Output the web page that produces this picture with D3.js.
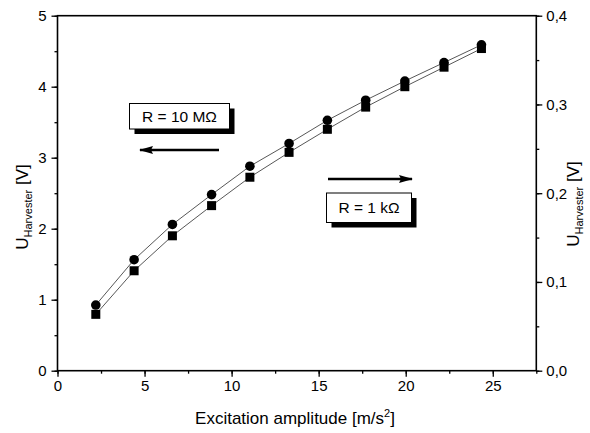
<!DOCTYPE html>
<html>
<head>
<meta charset="utf-8">
<script src="https://cdn.jsdelivr.net/npm/d3@7"></script>
<style>
body { margin: 0; background: #fff; }
svg text { font-family: Arial, "Liberation Sans", sans-serif; fill: #000; }
</style>
</head>
<body>
<div id="chart"></div>
<script>
// excitation amplitude in m/s^2
var amplitude = [2.2, 4.4, 6.6, 8.85, 11.05, 13.3, 15.5, 17.7, 19.95, 22.2, 24.35];
// R = 10 MOhm, left axis [V]
var u10M = [0.925, 1.563, 2.06, 2.48, 2.88, 3.2, 3.527, 3.81, 4.08, 4.34, 4.59];
// R = 1 kOhm, right axis [V]
var u1k = [0.0635, 0.1126, 0.152, 0.186, 0.218, 0.246, 0.272, 0.297, 0.320, 0.342, 0.363];

var xTicks = [0, 5, 10, 15, 20, 25];
var yLeftTicks = [0, 1, 2, 3, 4, 5];
var yRightTicks = [0, 0.1, 0.2, 0.3, 0.4];

var width = 590, height = 433;
var plot = {left: 57.5, right: 536.3, top: 15.7, bottom: 370.7};

var svg = d3.select("#chart").append("svg")
    .attr("width", width)
    .attr("height", height);

var x = d3.scaleLinear().domain([0, 27.5]).range([plot.left, plot.right]);
var yL = d3.scaleLinear().domain([0, 5]).range([plot.bottom, plot.top]);
var yR = d3.scaleLinear().domain([0, 0.4]).range([plot.bottom, plot.top]);

var comma = function(d) { return d3.format(".1f")(d).replace(".", ","); };

// bottom axis
var gx = svg.append("g").attr("transform", "translate(0," + plot.bottom + ")");
gx.call(d3.axisBottom(x).tickValues(d3.range(0, 27.6, 2.5)).tickSize(3).tickFormat(""));
gx.append("g").call(d3.axisBottom(x).tickValues(xTicks).tickSize(6).tickPadding(4));

// left axis
var gl = svg.append("g").attr("transform", "translate(" + plot.left + ",0)");
gl.call(d3.axisLeft(yL).tickValues(d3.range(0, 5.01, 0.5)).tickSize(3).tickFormat(""));
gl.append("g").call(d3.axisLeft(yL).tickValues(yLeftTicks).tickSize(6).tickPadding(5).tickFormat(d3.format("d")));

// right axis
var gr = svg.append("g").attr("transform", "translate(" + plot.right + ",0)");
gr.call(d3.axisRight(yR).tickValues(d3.range(0, 0.401, 0.05)).tickSize(3).tickFormat(""));
gr.append("g").call(d3.axisRight(yR).tickValues(yRightTicks).tickSize(6).tickPadding(4).tickFormat(comma));

svg.selectAll(".domain").remove();
svg.selectAll(".tick line").attr("stroke", "#000").attr("stroke-width", 1.3);
svg.selectAll(".tick text").style("font-size", "15px").attr("fill", "#000");

// frame
svg.append("rect")
    .attr("x", plot.left).attr("y", plot.top)
    .attr("width", plot.right - plot.left).attr("height", plot.bottom - plot.top)
    .attr("fill", "none").attr("stroke", "#000").attr("stroke-width", 1.6);

// lines
var lineL = d3.line().x(function(d, i) { return x(amplitude[i]); }).y(function(d) { return yL(d); });
var lineR = d3.line().x(function(d, i) { return x(amplitude[i]); }).y(function(d) { return yR(d); });

svg.append("path").datum(u10M).attr("d", lineL)
    .attr("fill", "none").attr("stroke", "#444").attr("stroke-width", 0.9);
svg.append("path").datum(u1k).attr("d", lineR)
    .attr("fill", "none").attr("stroke", "#444").attr("stroke-width", 0.9);

// markers
svg.selectAll(".sq").data(u1k).enter().append("rect")
    .attr("class", "sq")
    .attr("x", function(d, i) { return x(amplitude[i]) - 4.5; })
    .attr("y", function(d) { return yR(d) - 4.5; })
    .attr("width", 9).attr("height", 9)
    .attr("fill", "#000");

svg.selectAll(".dot").data(u10M).enter().append("circle")
    .attr("class", "dot")
    .attr("cx", function(d, i) { return x(amplitude[i]); })
    .attr("cy", function(d) { return yL(d); })
    .attr("r", 4.8)
    .attr("fill", "#000");

// annotation boxes with shadow
function labelBox(x0, y0, w, h, txt) {
    svg.append("rect").attr("x", x0 + 5).attr("y", y0 + 5).attr("width", w).attr("height", h).attr("fill", "#000");
    svg.append("rect").attr("x", x0).attr("y", y0).attr("width", w).attr("height", h)
        .attr("fill", "#fff").attr("stroke", "#000").attr("stroke-width", 1);
    svg.append("text").attr("x", x0 + w / 2).attr("y", y0 + h / 2 + 5.5)
        .attr("text-anchor", "middle").style("font-size", "15.5px").text(txt);
}
labelBox(129.5, 103.5, 100, 25.5, "R = 10 M\u03A9");
labelBox(326.5, 193, 85, 29.5, "R = 1 k\u03A9");

// arrows
var defs = svg.append("defs");
defs.append("marker").attr("id", "head")
    .attr("viewBox", "0 0 14 8").attr("refX", 13).attr("refY", 4)
    .attr("markerWidth", 14).attr("markerHeight", 8).attr("markerUnits", "userSpaceOnUse")
    .attr("orient", "auto")
    .append("path").attr("d", "M0,0L14,4L0,8L2,4Z").attr("fill", "#000");

svg.append("line").attr("x1", 219).attr("y1", 150).attr("x2", 140).attr("y2", 150)
    .attr("stroke", "#000").attr("stroke-width", 2.4).attr("marker-end", "url(#head)");
svg.append("line").attr("x1", 328).attr("y1", 179).attr("x2", 412).attr("y2", 179)
    .attr("stroke", "#000").attr("stroke-width", 2.4).attr("marker-end", "url(#head)");

// axis titles
var xt = svg.append("text").attr("x", 295).attr("y", 424).attr("text-anchor", "middle").style("font-size", "17px");
xt.append("tspan").text("Excitation amplitude [m/s");
xt.append("tspan").attr("dy", -7).style("font-size", "11px").text("2");
xt.append("tspan").attr("dy", 7).text("]");

function yTitle(cx, cy) {
    var t = svg.append("text")
        .attr("transform", "translate(" + cx + "," + cy + ") rotate(-90)")
        .attr("text-anchor", "middle").style("font-size", "17px");
    t.append("tspan").text("U");
    t.append("tspan").attr("dy", 4).style("font-size", "11px").text("Harvester");
    t.append("tspan").attr("dy", -4).text(" [V]");
}
yTitle(28, 207);
yTitle(579, 204);
</script>
</body>
</html>
